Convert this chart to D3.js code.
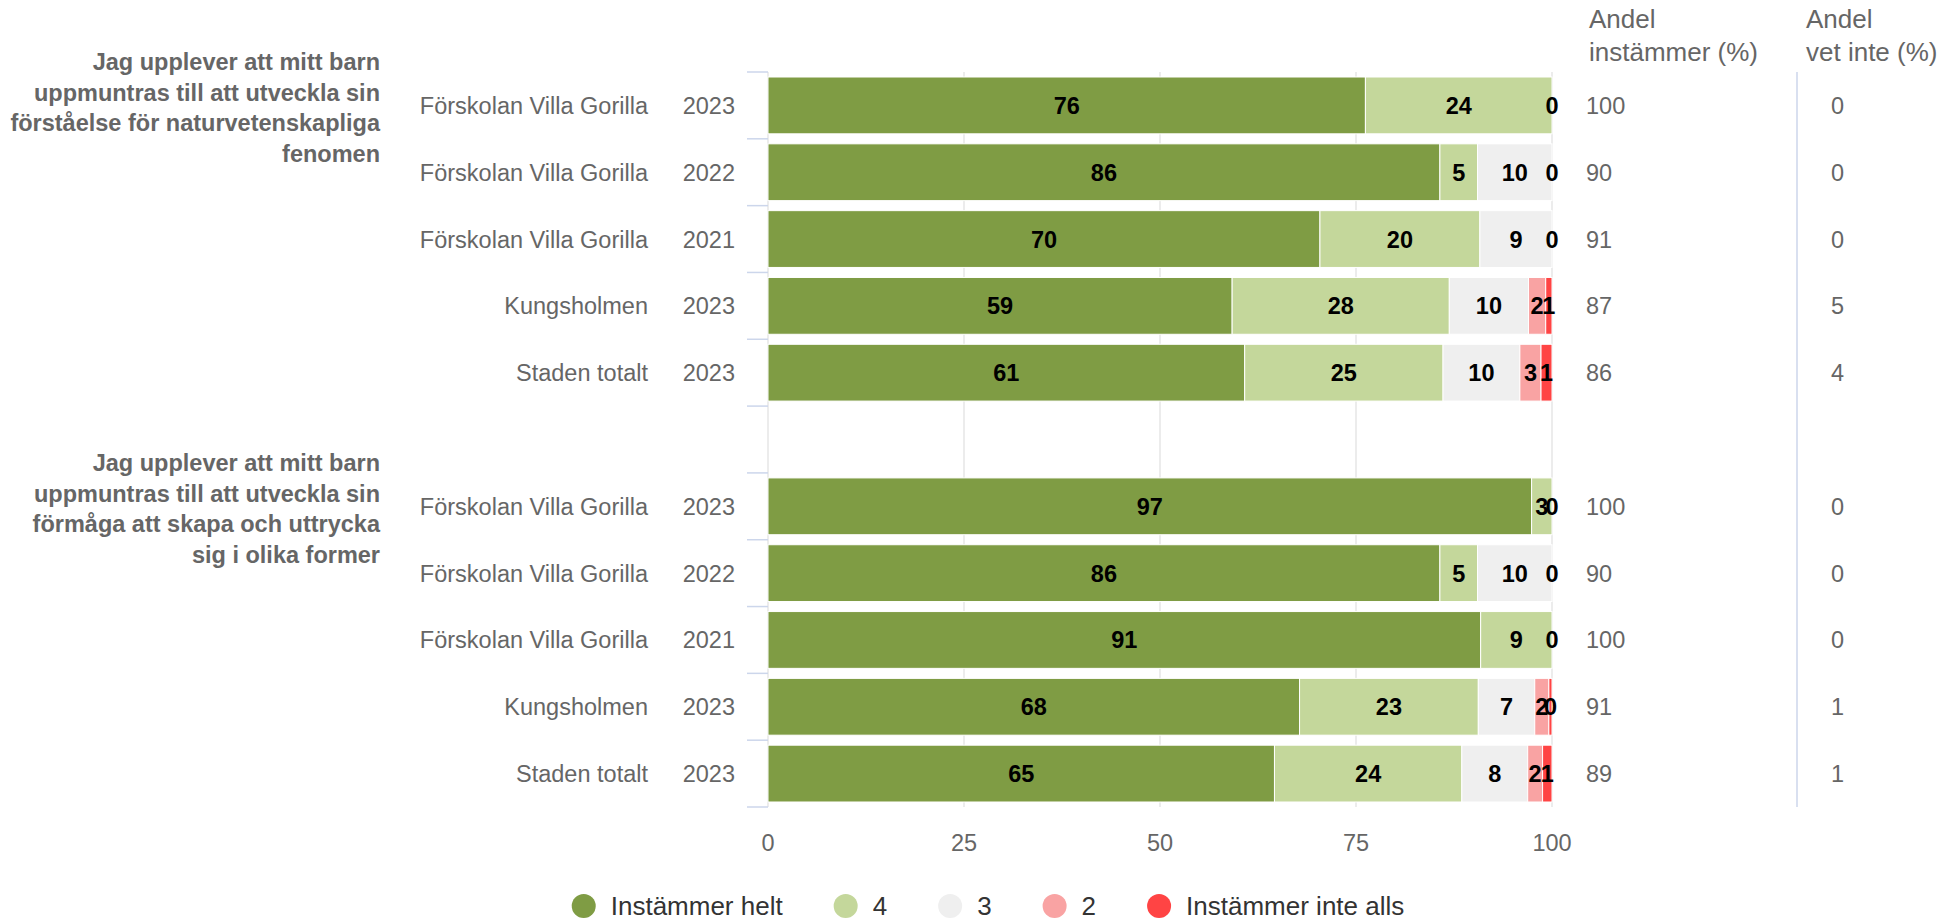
<!DOCTYPE html>
<html>
<head>
<meta charset="utf-8">
<script src="https://cdn.jsdelivr.net/npm/d3@7"></script>
<style>
    body { margin: 0; background: #fff; }
    text { font-family: "Liberation Sans", Arial, sans-serif; }
</style>
</head>
<body>
<svg id="chart" width="1959" height="924"></svg>
<script>
// question texts, already broken into lines
var questions = [
    ["Jag upplever att mitt barn", "uppmuntras till att utveckla sin", "förståelse för naturvetenskapliga", "fenomen"],
    ["Jag upplever att mitt barn", "uppmuntras till att utveckla sin", "förmåga att skapa och uttrycka", "sig i olika former"]
];
var units = ["Förskolan Villa Gorilla", "Förskolan Villa Gorilla", "Förskolan Villa Gorilla", "Kungsholmen", "Staden totalt"];
var years = ["2023", "2022", "2021", "2023", "2023"];

var seriesNames = ["Instämmer helt", "4", "3", "2", "Instämmer inte alls"];
var seriesColors = ["#7f9c44", "#c4d79b", "#efefef", "#f9a3a3", "#ff4444"];

// one value per bar: question 1 (5 bars), then question 2 (5 bars)
var helt     = [76.2, 85.7, 70.4, 59.2, 60.8,  97.4, 85.7, 90.9, 67.8, 64.6];
var fyra     = [23.8, 4.8, 20.4, 27.7, 25.3,   2.6, 4.8, 9.1, 22.8, 23.9];
var tre      = [0, 9.5, 9.2, 10.1, 9.8,        0, 9.5, 0, 7.2, 8.4];
var tva      = [null, 0, 0, 2.2, 2.7,          null, 0, null, 1.8, 1.9];
var inteAlls = [null, null, null, 0.8, 1.4,    null, null, null, 0.4, 1.2];

var andelInstammer = [100, 90, 91, 87, 86,  100, 90, 100, 91, 89];
var andelVetInte   = [0, 0, 0, 5, 4,        0, 0, 0, 1, 1];

var xTicks = [0, 25, 50, 75, 100];

var svg = d3.select("#chart");
var plotLeft = 768, plotRight = 1552, plotTop = 72, plotBottom = 807;

var x = d3.scaleLinear().domain([0, 100]).range([plotLeft, plotRight]);
// 11 slots, slot 5 is the empty gap between the two questions
var y = d3.scaleBand().domain(d3.range(11)).range([plotTop, plotBottom])
    .paddingInner(0.15).paddingOuter(0.075);
var step = y.step();

function slotOf(i) { return i < 5 ? i : i + 1; }
function rowCenter(i) { return y(slotOf(i)) + y.bandwidth() / 2; }

// gridlines
svg.append("g").selectAll("line")
    .data(xTicks)
    .enter().append("line")
    .attr("x1", function(d) { return x(d); })
    .attr("x2", function(d) { return x(d); })
    .attr("y1", plotTop)
    .attr("y2", plotBottom)
    .style("stroke", "#e6e6e6")
    .style("stroke-width", 1.5);

// category ticks at row boundaries
svg.append("g").selectAll("line")
    .data(d3.range(12))
    .enter().append("line")
    .attr("x1", plotLeft - 21)
    .attr("x2", plotLeft)
    .attr("y1", function(d) { return plotTop + d * step; })
    .attr("y2", function(d) { return plotTop + d * step; })
    .style("stroke", "#ccd6eb")
    .style("stroke-width", 1.5);

// stacked segments
var values = [helt, fyra, tre, tva, inteAlls];
var segments = [];
d3.range(10).forEach(function(i) {
    var start = 0;
    values.forEach(function(arr, s) {
        var v = arr[i];
        if (v === null) return;
        segments.push({row: i, series: s, x0: start, x1: start + v, value: v});
        start += v;
    });
});

svg.append("g").selectAll("rect")
    .data(segments)
    .enter().append("rect")
    .attr("x", function(d) { return x(d.x0); })
    .attr("y", function(d) { return y(slotOf(d.row)); })
    .attr("width", function(d) { return Math.max(0, x(d.x1) - x(d.x0)); })
    .attr("height", y.bandwidth())
    .style("fill", function(d) { return seriesColors[d.series]; })
    .style("stroke", "#ffffff")
    .style("stroke-width", 1);

svg.append("g").selectAll("text")
    .data(segments)
    .enter().append("text")
    .attr("x", function(d) { return x((d.x0 + d.x1) / 2); })
    .attr("y", function(d) { return rowCenter(d.row); })
    .attr("dy", "0.36em")
    .attr("text-anchor", "middle")
    .style("font-size", "23.5px")
    .style("font-weight", "bold")
    .style("fill", "#000")
    .text(function(d) { return Math.round(d.value); });

// row labels
var rowLabels = svg.append("g").selectAll("g")
    .data(d3.range(10))
    .enter().append("g");

rowLabels.append("text")
    .attr("x", 648)
    .attr("y", function(i) { return rowCenter(i); })
    .attr("dy", "0.36em")
    .attr("text-anchor", "end")
    .style("font-size", "23.5px")
    .style("fill", "#666666")
    .text(function(i) { return units[i % 5]; });

rowLabels.append("text")
    .attr("x", 735)
    .attr("y", function(i) { return rowCenter(i); })
    .attr("dy", "0.36em")
    .attr("text-anchor", "end")
    .style("font-size", "23.5px")
    .style("fill", "#666666")
    .text(function(i) { return years[i % 5]; });

rowLabels.append("text")
    .attr("x", 1586)
    .attr("y", function(i) { return rowCenter(i); })
    .attr("dy", "0.36em")
    .style("font-size", "23.5px")
    .style("fill", "#666666")
    .text(function(i) { return andelInstammer[i]; });

rowLabels.append("text")
    .attr("x", 1831)
    .attr("y", function(i) { return rowCenter(i); })
    .attr("dy", "0.36em")
    .style("font-size", "23.5px")
    .style("fill", "#666666")
    .text(function(i) { return andelVetInte[i]; });

// question labels
questions.forEach(function(lines, q) {
    svg.append("text")
        .attr("text-anchor", "end")
        .style("font-size", "23.5px")
        .style("font-weight", "bold")
        .style("fill", "#666666")
        .selectAll("tspan")
        .data(lines)
        .enter().append("tspan")
        .attr("x", 380)
        .attr("y", function(d, k) { return plotTop + q * 6 * step - 10 + k * 30.5; })
        .attr("dy", "0.36em")
        .text(function(d) { return d; });
});

// column headers
var headers = [["Andel", "instämmer (%)"], ["Andel", "vet inte (%)"]];
var headerX = [1589, 1806];
headers.forEach(function(lines, h) {
    svg.append("text")
        .style("font-size", "26px")
        .style("fill", "#666666")
        .selectAll("tspan")
        .data(lines)
        .enter().append("tspan")
        .attr("x", headerX[h])
        .attr("y", function(d, k) { return 28 + k * 32.5; })
        .text(function(d) { return d; });
});

svg.append("line")
    .attr("x1", 1797).attr("x2", 1797)
    .attr("y1", plotTop).attr("y2", plotBottom)
    .style("stroke", "#ccd6eb")
    .style("stroke-width", 1.5);

// x axis labels
svg.append("g").selectAll("text")
    .data(xTicks)
    .enter().append("text")
    .attr("x", function(d) { return x(d); })
    .attr("y", 843)
    .attr("dy", "0.36em")
    .attr("text-anchor", "middle")
    .style("font-size", "23.5px")
    .style("fill", "#666666")
    .text(function(d) { return d; });

// legend
var legend = svg.append("g");
var legendX = 0;
seriesNames.forEach(function(name, s) {
    var item = legend.append("g").attr("transform", "translate(" + legendX + ",0)");
    item.append("circle")
        .attr("cx", 12).attr("cy", 0).attr("r", 12)
        .style("fill", seriesColors[s]);
    var t = item.append("text")
        .attr("x", 39).attr("y", 0).attr("dy", "0.36em")
        .style("font-size", "26px")
        .style("fill", "#333333")
        .text(name);
    legendX += 39 + t.node().getComputedTextLength() + 51;
});
var legendWidth = legendX - 51;
legend.attr("transform", "translate(" + (988 - legendWidth / 2) + ",906)");
</script>
</body>
</html>
